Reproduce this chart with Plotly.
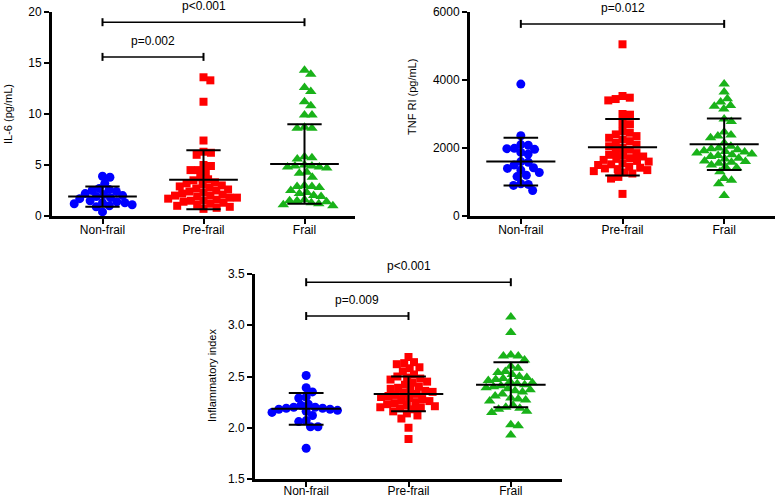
import plotly.graph_objects as go
import numpy as np

W, H = 778, 498

categories = ["Non-frail", "Pre-frail", "Frail"]

# IL-6 (pg/mL)
il6_nonfrail = [3.9, 3.8, 3.2, 2.7, 2.6, 2.5, 2.4, 2.2, 2.1, 2.0, 1.9, 1.8, 1.7, 1.5,
                1.4, 1.3, 1.3, 1.2, 1.1, 1.0, 0.9, 0.4]
il6_prefrail = [13.6, 13.3, 11.2, 7.4, 6.3, 6.2, 6.0, 5.0, 4.9, 4.5, 4.5, 4.3, 3.8, 3.6,
                3.5, 3.3, 3.2, 3.1, 3.0, 2.9, 2.8, 2.7, 2.6, 2.5, 2.4, 2.3, 2.2, 2.1,
                2.0, 2.0, 1.9, 1.8, 1.8, 1.7, 1.6, 1.5, 1.5, 1.4, 1.3, 1.2, 1.1, 1.0,
                0.9, 0.8, 0.7]
il6_frail = [14.3, 13.9, 12.6, 12.2, 11.2, 10.8, 9.9, 9.9, 8.7, 8.6, 8.6, 5.8, 5.7, 5.6,
             5.0, 4.9, 4.9, 4.8, 4.8, 4.7, 4.3, 4.2, 3.8, 3.0, 2.9, 2.9, 2.8, 2.5, 2.3,
             2.2, 2.0, 1.9, 1.6, 1.5, 1.5, 1.4, 1.3, 1.2, 1.1, 1.0]
il6_mean = [1.9, 3.55, 5.1]
il6_sd = [1.0, 2.9, 3.9]

# TNF RI (pg/mL)
tnf_nonfrail = [3880, 2360, 2100, 2080, 1990, 1980, 1960, 1870, 1820, 1600, 1580, 1500,
                1420, 1400, 1350, 1280, 1200, 1160, 950, 930, 900, 750]
tnf_prefrail = [5050, 3530, 3480, 3440, 3400, 3000, 2980, 2730, 2700, 2500, 2450, 2400,
                2350, 2300, 2250, 2200, 2150, 2100, 2050, 2000, 1950, 1900, 1850, 1800,
                1780, 1750, 1700, 1680, 1650, 1620, 1600, 1550, 1520, 1500, 1450, 1420,
                1400, 1380, 1350, 1320, 1280, 1250, 1150, 1100, 650]
tnf_frail = [3880, 3650, 3450, 3350, 3250, 3230, 3150, 2850, 2780, 2470, 2380, 2350,
             2300, 2150, 2050, 2000, 1980, 1950, 1920, 1900, 1880, 1850, 1820, 1800,
             1780, 1750, 1700, 1680, 1620, 1600, 1580, 1550, 1500, 1450, 1420, 1300,
             1100, 1050, 950, 600]
tnf_mean = [1600, 2020, 2110]
tnf_sd = [700, 830, 760]

# Inflammatory index
inf_nonfrail = [2.51, 2.39, 2.35, 2.30, 2.29, 2.23, 2.22, 2.20, 2.20, 2.19, 2.19, 2.18,
                2.18, 2.17, 2.16, 2.15, 2.12, 2.07, 2.06, 2.01, 2.01, 1.80]
inf_prefrail = [2.69, 2.64, 2.63, 2.62, 2.59, 2.58, 2.55, 2.52, 2.50, 2.49, 2.48, 2.47,
                2.45, 2.44, 2.42, 2.40, 2.39, 2.38, 2.37, 2.36, 2.35, 2.34, 2.33, 2.32,
                2.31, 2.30, 2.29, 2.28, 2.27, 2.26, 2.25, 2.24, 2.23, 2.22, 2.21, 2.20,
                2.20, 2.19, 2.18, 2.16, 2.14, 2.12, 2.09, 2.00, 1.89]
inf_frail = [3.08, 2.93, 2.71, 2.70, 2.70, 2.66, 2.60, 2.58, 2.55, 2.54, 2.52, 2.50,
             2.49, 2.48, 2.47, 2.46, 2.45, 2.44, 2.43, 2.42, 2.41, 2.40, 2.39, 2.38,
             2.37, 2.36, 2.35, 2.33, 2.31, 2.29, 2.28, 2.27, 2.26, 2.22, 2.20, 2.19,
             2.18, 2.16, 2.15, 2.03, 2.02, 1.93]
inf_mean = [2.185, 2.33, 2.42]
inf_sd = [0.155, 0.17, 0.22]

# significance brackets: (from, to, height, label)
il6_sig = [(0, 1, 15.6, "p=0.002"), (0, 2, 19.0, "p<0.001")]
tnf_sig = [(0, 2, 5650, "p=0.012")]
inf_sig = [(0, 1, 3.09, "p=0.009"), (0, 2, 3.42, "p<0.001")]

FONT = "Liberation Sans, Arial, sans-serif"
colors = ["#0000ff", "#ff0000", "#19b219"]
symbols = ["circle", "square", "triangle-up"]
sizes = [9, 8, 10]

# panel boxes in pixels: left, right, top, bottom
panels = [
    dict(box=(52, 355, 12, 216), yr=[0, 20], tv=[0, 5, 10, 15, 20], fmt="",
         groups=[il6_nonfrail, il6_prefrail, il6_frail], mean=il6_mean, sd=il6_sd,
         sig=il6_sig, title="IL-6 (pg/mL)", tx=8, ty=114, lab_off=-4),
    dict(box=(470, 775, 12, 216), yr=[0, 6000], tv=[0, 2000, 4000, 6000], fmt="",
         groups=[tnf_nonfrail, tnf_prefrail, tnf_frail], mean=tnf_mean, sd=tnf_sd,
         sig=tnf_sig, title="TNF RI (pg/mL)", tx=412, ty=97, lab_off=-4),
    dict(box=(255, 562, 274, 479), yr=[1.5, 3.5], tv=[1.5, 2.0, 2.5, 3.0, 3.5], fmt=".1f",
         groups=[inf_nonfrail, inf_prefrail, inf_frail], mean=inf_mean, sd=inf_sd,
         sig=inf_sig, title="Inflammatory index", tx=212, ty=375, lab_off=-6),
]


def swarm(vals, ypx, xpx, d=7.5):
    # deterministic beeswarm in pixel space, returns x offsets in axis units
    ys = np.array(vals, dtype=float) * ypx
    order = np.argsort(-ys)
    placed = []
    offs = np.zeros(len(ys))
    for i in order:
        y = ys[i]
        near = [(px, py) for px, py in placed if abs(py - y) < d]
        cands = [0.0]
        for px, py in near:
            dx = np.sqrt(d * d - (py - y) ** 2)
            cands += [px + dx, px - dx]
        cands.sort(key=abs)
        for c in cands:
            if all((c - px) ** 2 + (y - py) ** 2 >= d * d - 1e-6 for px, py in near):
                placed.append((c, y))
                offs[i] = c
                break
    return offs / xpx


fig = go.Figure()
layout = dict(width=W, height=H, margin=dict(l=0, r=0, t=0, b=0, autoexpand=False),
              paper_bgcolor="white", plot_bgcolor="white", showlegend=False,
              font=dict(family=FONT, size=12, color="black"))
annotations = []
shapes = []

for k, p in enumerate(panels):
    n = "" if k == 0 else str(k + 1)
    xa, ya = "x" + n, "y" + n
    l, r, t, b = p["box"]
    xpx = (r - l) / 3.0
    ypx = (b - t) / (p["yr"][1] - p["yr"][0])

    for g, vals in enumerate(p["groups"]):
        offs = swarm(vals, ypx, xpx)
        fig.add_trace(go.Scatter(
            x=g + offs, y=vals, mode="markers", xaxis=xa, yaxis=ya,
            marker=dict(symbol=symbols[g], size=sizes[g], color=colors[g], line=dict(width=0)),
            cliponaxis=False, hoverinfo="y"))

    # mean +/- SD
    ex, ey = [], []
    for g, (m, s) in enumerate(zip(p["mean"], p["sd"])):
        ex += [g - 0.34, g + 0.34, None, g, g, None,
               g - 0.17, g + 0.17, None, g - 0.17, g + 0.17, None]
        ey += [m, m, None, m - s, m + s, None,
               m - s, m - s, None, m + s, m + s, None]
    fig.add_trace(go.Scatter(x=ex, y=ey, mode="lines", xaxis=xa, yaxis=ya,
                             line=dict(color="black", width=2), hoverinfo="skip",
                             cliponaxis=False))

    for a, c, h, lab in p["sig"]:
        shapes.append(dict(type="line", xref=xa, yref=ya, x0=a, x1=c, y0=h, y1=h,
                           line=dict(color="black", width=1.5)))
        for xe in (a, c):
            shapes.append(dict(type="line", xref=xa, yref=ya, x0=xe, x1=xe,
                               ysizemode="pixel", yanchor=h, y0=-4, y1=4,
                               line=dict(color="black", width=2)))
        annotations.append(dict(x=(a + c) / 2, y=h, xref=xa, yref=ya, text=lab,
                                showarrow=False, yanchor="middle", yshift=16,
                                font=dict(size=12)))

    annotations.append(dict(x=p["tx"] / W, y=1 - p["ty"] / H, xref="paper", yref="paper",
                            xanchor="center", yanchor="middle",
                            text=p["title"], textangle=-90, showarrow=False,
                            font=dict(size=11)))

    axis_common = dict(showline=True, linewidth=3, linecolor="black",
                       ticks="outside", ticklen=5, tickwidth=2, tickcolor="black",
                       showgrid=False, zeroline=False, fixedrange=True,
                       automargin=False, tickfont=dict(size=12))
    layout["xaxis" + n] = dict(domain=[l / W, r / W], range=[-0.5, 2.5], anchor=ya,
                               tickvals=[0, 1, 2], ticktext=categories,
                               ticklabelstandoff=p["lab_off"], **axis_common)
    layout["yaxis" + n] = dict(domain=[1 - b / H, 1 - t / H], range=p["yr"], anchor=xa,
                               tickvals=p["tv"], tickformat=p["fmt"], **axis_common)

layout["annotations"] = annotations
layout["shapes"] = shapes
fig.update_layout(**layout)
# drop the browser's default 8px body margin so the figure sits at the page corner
fig.write_html("out.html", config={"displayModeBar": False},
               post_script="document.body.style.margin='0px';")
